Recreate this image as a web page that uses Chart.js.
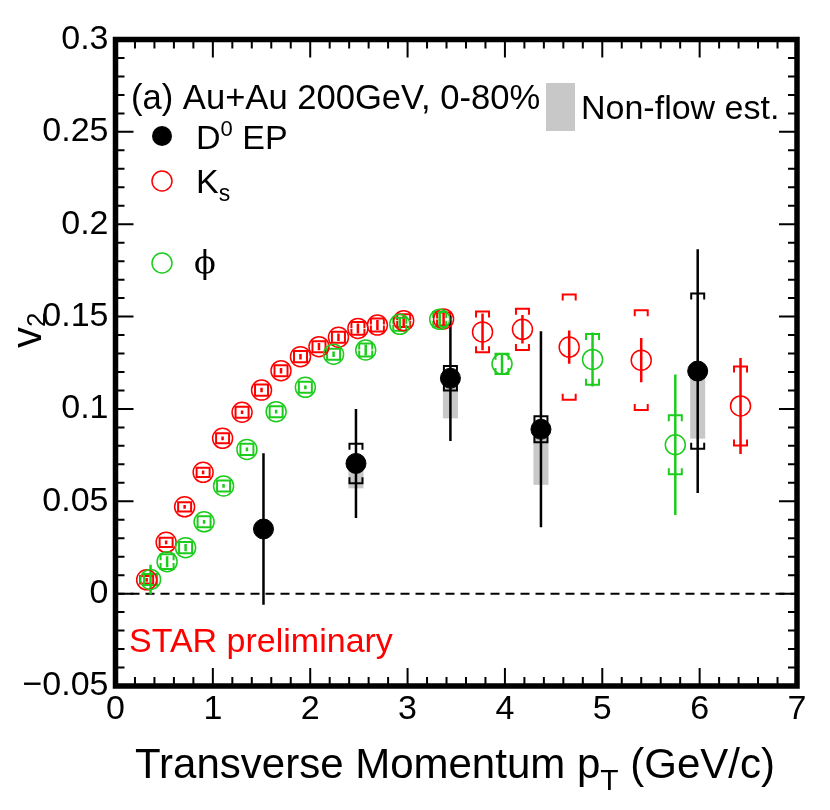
<!DOCTYPE html>
<html><head><meta charset="utf-8">
<script src="https://cdn.jsdelivr.net/npm/chart.js@4"></script>
<style>html,body{margin:0;padding:0;background:#fff;}#wrap{width:830px;height:810px;}</style>
</head><body><div id="wrap"><canvas id="c" width="830" height="810"></canvas></div>
<script>
// ---------------- data ----------------
const d0X     = [1.52, 2.47, 3.44, 4.37, 5.98];
const d0Y     = [0.035, 0.0705, 0.1166, 0.0890, 0.1205];
const d0Stat  = [0.041, 0.0295, 0.034, 0.053, 0.066];
const d0Sys   = [0.003, 0.0107, 0.0066, 0.0070, 0.0420];
const d0NonFlow = [0.004, 0.0135, 0.0217, 0.0301, 0.0366];

const ksX    = [0.32, 0.52, 0.71, 0.90, 1.10, 1.30, 1.50, 1.70, 1.90, 2.09, 2.29, 2.49, 2.69, 2.96, 3.37, 3.77, 4.18, 4.66, 5.40, 6.42];
const ksY    = [0.0075, 0.0278, 0.0470, 0.0657, 0.0841, 0.0982, 0.1102, 0.1207, 0.1283, 0.1337, 0.1388, 0.1436, 0.1454, 0.1478, 0.1487, 0.1417, 0.1431, 0.1335, 0.1264, 0.1016];
const ksStat = [0.001, 0.001, 0.001, 0.001, 0.001, 0.001, 0.0012, 0.0015, 0.0015, 0.002, 0.002, 0.0027, 0.0027, 0.0036, 0.005, 0.010, 0.0077, 0.009, 0.012, 0.026];
const ksSys  = [0.002, 0.0025, 0.0025, 0.0025, 0.0027, 0.003, 0.003, 0.003, 0.003, 0.003, 0.003, 0.0035, 0.0035, 0.0035, 0.0035, 0.011, 0.0112, 0.0285, 0.027, 0.0214];

const phiX    = [0.36, 0.53, 0.72, 0.91, 1.11, 1.35, 1.65, 1.95, 2.24, 2.57, 2.92, 3.33, 3.97, 4.90, 5.75];
const phiY    = [0.0077, 0.0173, 0.0249, 0.0389, 0.0583, 0.0781, 0.0985, 0.1117, 0.1296, 0.1319, 0.1458, 0.1485, 0.1244, 0.1268, 0.0806];
const phiStat = [0.008, 0.003, 0.002, 0.001, 0.001, 0.001, 0.001, 0.001, 0.0015, 0.003, 0.004, 0.0045, 0.005, 0.0146, 0.038];
const phiSys  = [0.003, 0.004, 0.003, 0.003, 0.003, 0.003, 0.003, 0.003, 0.003, 0.0035, 0.0035, 0.004, 0.0055, 0.0137, 0.016];

const xTicks = [0, 1, 2, 3, 4, 5, 6, 7];
const yTicks = [-0.05, 0, 0.05, 0.1, 0.15, 0.2, 0.25, 0.3];

// ---------------- styles ----------------
const FONT = '"Liberation Sans", Arial, sans-serif';
const RED = '#ff0000', GREEN = '#1ccc1c', GREY = '#c8c8c8';
const TXT = 34;

function pts(xs, ys){ return xs.map((v,i)=>({x:v, y:ys[i]})); }

function brackets(ctx, px, pt, pb, hw, arm){
  const a = Math.min(arm, (pb-pt)/2);
  ctx.beginPath();
  ctx.moveTo(px-hw, pt+a); ctx.lineTo(px-hw, pt); ctx.lineTo(px+hw, pt); ctx.lineTo(px+hw, pt+a);
  ctx.moveTo(px-hw, pb-a); ctx.lineTo(px-hw, pb); ctx.lineTo(px+hw, pb); ctx.lineTo(px+hw, pb-a);
  ctx.stroke();
}
function drawErrors(ctx, xs, ys, stat, sys, sx, sy, color, lw){
  ctx.strokeStyle = color;
  xs.forEach((v,i)=>{
    const px = sx.getPixelForValue(v);
    const t = sy.getPixelForValue(ys[i]+stat[i]), b = sy.getPixelForValue(ys[i]-stat[i]);
    ctx.lineWidth = lw;
    ctx.beginPath(); ctx.moveTo(px,t); ctx.lineTo(px,b); ctx.stroke();
    ctx.lineWidth = 2;
    brackets(ctx, px, sy.getPixelForValue(ys[i]+sys[i]), sy.getPixelForValue(ys[i]-sys[i]), 6.5, 6);
  });
}
function richText(ctx, parts, x, y){
  let cx = x;
  parts.forEach(p=>{
    ctx.font = p[1]+'px '+(p[3]||FONT);
    ctx.fillText(p[0], cx, y + (p[2]||0));
    cx += ctx.measureText(p[0]).width;
  });
}

const rootPlugin = {
  id: 'rootStyle',
  beforeDatasetsDraw(chart){
    const {ctx, chartArea:a, scales:{x, y}} = chart;
    ctx.save();
    ctx.beginPath(); ctx.rect(a.left, a.top, a.right-a.left, a.bottom-a.top); ctx.clip();
    const y0 = y.getPixelForValue(0);
    ctx.setLineDash([9,6]); ctx.lineWidth = 2; ctx.strokeStyle = '#000';
    ctx.beginPath(); ctx.moveTo(a.left, y0); ctx.lineTo(a.right, y0); ctx.stroke();
    ctx.setLineDash([]);
    ctx.fillStyle = GREY;
    d0X.forEach((v,i)=>{
      const px = x.getPixelForValue(v);
      const t = y.getPixelForValue(d0Y[i]), b = y.getPixelForValue(d0Y[i]-d0NonFlow[i]);
      ctx.fillRect(px-7.5, t, 15, b-t);
    });
    drawErrors(ctx, ksX, ksY, ksStat, ksSys, x, y, RED, 2.5);
    drawErrors(ctx, phiX, phiY, phiStat, phiSys, x, y, GREEN, 2.5);
    drawErrors(ctx, d0X, d0Y, d0Stat, d0Sys, x, y, '#000', 2.5);
    ctx.restore();
  },
  afterDraw(chart){
    const {ctx, chartArea:a, scales:{x, y}} = chart;
    ctx.save();
    ctx.strokeStyle = '#000'; ctx.lineWidth = 2;
    ctx.beginPath();
    for(let k=0;k<=35;k++){
      const px = x.getPixelForValue(k*0.2);
      const L = (k%5===0)?18:9;
      ctx.moveTo(px, a.bottom); ctx.lineTo(px, a.bottom-L);
      ctx.moveTo(px, a.top); ctx.lineTo(px, a.top+L);
    }
    for(let k=-5;k<=30;k++){
      const py = y.getPixelForValue(k*0.01);
      const L = (k%5===0)?18:9;
      ctx.moveTo(a.left, py); ctx.lineTo(a.left+L, py);
      ctx.moveTo(a.right, py); ctx.lineTo(a.right-L, py);
    }
    ctx.stroke();
    ctx.lineWidth = 5.5;
    ctx.strokeRect(a.left, a.top, a.right-a.left, a.bottom-a.top);

    ctx.fillStyle = '#000'; ctx.textBaseline = 'alphabetic'; ctx.textAlign = 'left';
    richText(ctx, [['(a) Au+Au 200GeV, 0-80%', 34.6]], 131, 109);
    richText(ctx, [['D', TXT], ['0', 22, -13], [' EP', TXT]], 196, 149);
    richText(ctx, [['K', TXT], ['s', 23, 8]], 196, 193);
    richText(ctx, [['\u03D5', 32, 0, '"DejaVu Serif", serif']], 194, 273);
    richText(ctx, [['Non-flow est.', TXT]], 581, 119);
    ctx.fillStyle = GREY; ctx.fillRect(546, 83, 29, 48);
    ctx.fillStyle = RED;
    richText(ctx, [['STAR preliminary', TXT]], 129, 652);
    ctx.fillStyle = '#000';
    ctx.beginPath(); ctx.arc(162, 136, 10, 0, Math.PI*2); ctx.fill();
    ctx.lineWidth = 1.5;
    ctx.strokeStyle = RED; ctx.beginPath(); ctx.arc(162, 181, 10, 0, Math.PI*2); ctx.stroke();
    ctx.strokeStyle = GREEN; ctx.beginPath(); ctx.arc(162, 263, 10, 0, Math.PI*2); ctx.stroke();
    ctx.fillStyle = '#000';
    richText(ctx, [['Transverse Momentum p', 42], ['T', 30, 12], [' (GeV/c)', 42]], 135, 778);
    ctx.save();
    ctx.translate(41, 348); ctx.rotate(-Math.PI/2);
    richText(ctx, [['v', 42], ['2', 26, 4]], 0, 0);
    ctx.restore();
    ctx.restore();
  }
};

function fmt(v){
  const r = Math.round(v*100)/100;
  if (r === 0) return '0';
  return (r < 0 ? '\u2212' : '') + String(Math.abs(r));
}

new Chart(document.getElementById('c'), {
  type: 'scatter',
  data: {
    datasets: [
      { label: 'D0 EP', data: pts(d0X, d0Y), pointStyle: 'circle', pointRadius: 10, pointHoverRadius: 10,
        backgroundColor: '#000', borderColor: '#000', borderWidth: 1, order: 0 },
      { label: 'phi', data: pts(phiX, phiY), pointStyle: 'circle', pointRadius: 10, pointHoverRadius: 10,
        backgroundColor: 'rgba(0,0,0,0)', borderColor: GREEN, borderWidth: 1.5, order: 1 },
      { label: 'Ks', data: pts(ksX, ksY), pointStyle: 'circle', pointRadius: 10, pointHoverRadius: 10,
        backgroundColor: 'rgba(0,0,0,0)', borderColor: RED, borderWidth: 1.5, order: 2 }
    ]
  },
  options: {
    responsive: false, animation: false, devicePixelRatio: 1,
    layout: { padding: { left: 0, right: 33, top: 39.5, bottom: 0 } },
    plugins: { legend: { display: false }, tooltip: { enabled: false } },
    scales: {
      x: {
        type: 'linear', min: 0, max: 7,
        afterFit(s){ s.height = 124; },
        afterBuildTicks(s){ s.ticks = xTicks.map(v=>({value:v})); },
        grid: { display: false, drawTicks: false, tickLength: 0 }, border: { display: false },
        ticks: { color: '#000', font: { family: FONT, size: TXT }, padding: 3, maxRotation: 0, autoSkip: false,
                 callback: v => String(v) }
      },
      y: {
        type: 'linear', min: -0.05, max: 0.3,
        afterFit(s){ s.width = 115.5; },
        afterBuildTicks(s){ s.ticks = yTicks.map(v=>({value:v})); },
        grid: { display: false, drawTicks: false, tickLength: 0 }, border: { display: false },
        ticks: { color: '#000', font: { family: FONT, size: TXT }, padding: 7, autoSkip: false,
                 callback: v => fmt(v) }
      }
    }
  },
  plugins: [rootPlugin]
});
</script></body></html>
